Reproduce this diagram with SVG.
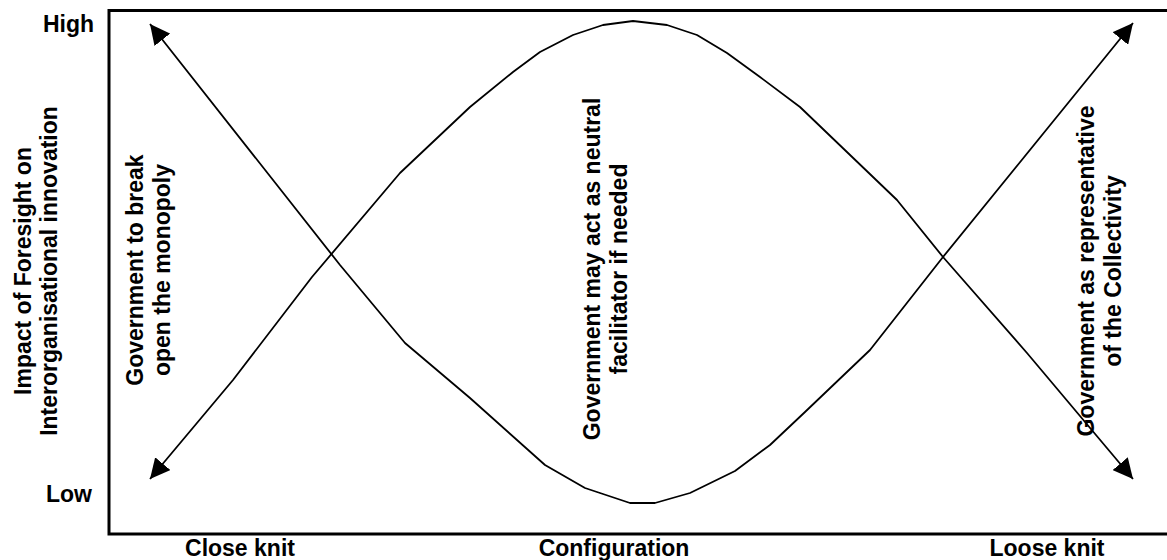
<svg xmlns="http://www.w3.org/2000/svg" width="1167" height="560" viewBox="0 0 1167 560">
  <style>
    .lbl { font-family: "Liberation Sans", Arial, sans-serif; font-weight: bold; font-size: 23px; fill: #000; }
    .mid { text-anchor: middle; }
    .end { text-anchor: end; }
    .curve { fill: none; stroke: #000; stroke-width: 1.8; stroke-linejoin: round; }
    .frame { fill: none; stroke: #000; stroke-width: 3; }
  </style>
  <defs>
    <marker id="arrow" viewBox="0 0 20 20" refX="20" refY="10" markerWidth="20" markerHeight="20" markerUnits="userSpaceOnUse" orient="auto-start-reverse">
      <path d="M0,0 L20,10 L0,20 z" fill="#000"/>
    </marker>
  </defs>
  <rect width="1167" height="560" fill="#fff"/>

  <g id="frame">
    <rect class="frame" x="109" y="10.5" width="1070" height="523.5"/>
  </g>

  <g id="axis-labels">
    <text class="lbl end" x="94" y="32">High</text>
    <text class="lbl end" x="92" y="502">Low</text>
    <text class="lbl mid" x="240" y="556">Close knit</text>
    <text class="lbl mid" x="614" y="556">Configuration</text>
    <text class="lbl mid" x="1047" y="556">Loose knit</text>
    <text class="lbl mid" transform="translate(31,271) rotate(-90)"><tspan x="0" y="0">Impact of Foresight on</tspan><tspan x="0" y="26">Interorganisational innovation</tspan></text>
  </g>

  <g id="connectors">
    <path class="curve" marker-start="url(#arrow)" marker-end="url(#arrow)" d="M150,24 L340,265 L405,343 L470,398 L545,465 L585,488 L630,503 L655,503 L690,493 L735,471 L770,445 L805,412 L870,350 L943,257 L1133,23"/>
    <path class="curve" marker-start="url(#arrow)" marker-end="url(#arrow)" d="M150,479 L233,380 L312,277 L400,173 L470,107 L513,72 L540,52 L573,35 L603,25 L633,21 L667,25 L697,35 L727,53 L760,77 L800,107 L897,200 L943,257 L1027,353 L1133,479"/>
  </g>

  <g id="node-close-knit">
    <text class="lbl mid" transform="translate(143,270) rotate(-90)"><tspan x="0" y="0">Government to break</tspan><tspan x="0" y="27">open the monopoly</tspan></text>
  </g>
  <g id="node-configuration">
    <text class="lbl mid" transform="translate(600,269) rotate(-90)"><tspan x="0" y="0">Government may act as neutral</tspan><tspan x="0" y="27">facilitator if needed</tspan></text>
  </g>
  <g id="node-loose-knit">
    <text class="lbl mid" transform="translate(1094,271) rotate(-90)"><tspan x="0" y="0">Government as representative</tspan><tspan x="0" y="27">of the Collectivity</tspan></text>
  </g>
</svg>
